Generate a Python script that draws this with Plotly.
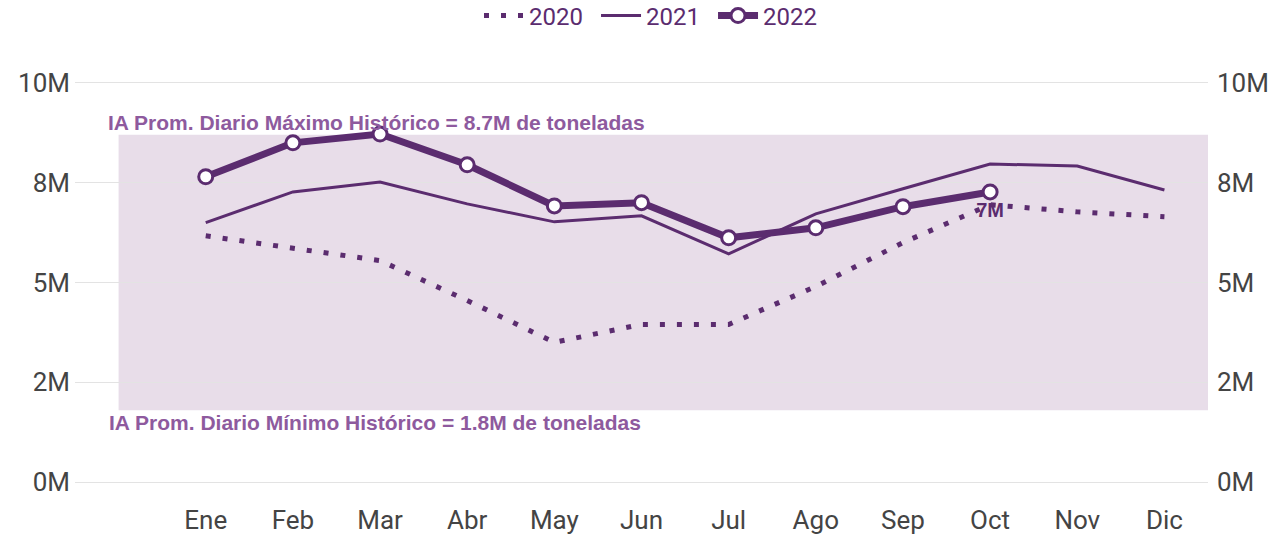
import plotly.graph_objects as go

months = ["Ene", "Feb", "Mar", "Abr", "May", "Jun", "Jul", "Ago", "Sep", "Oct", "Nov", "Dic"]
y2020 = [6.17, 5.85, 5.55, 4.55, 3.5, 3.95, 3.95, 4.9, 6.0, 6.95, 6.77, 6.65]
y2021 = [6.5, 7.27, 7.52, 6.97, 6.52, 6.67, 5.72, 6.72, 7.35, 7.97, 7.92, 7.32]
y2022 = [7.65, 8.5, 8.72, 7.95, 6.92, 7.0, 6.12, 6.37, 6.9, 7.27]
labels2022 = ["", "", "", "", "", "", "", "", "", "7M"]
hist_max = 8.7
hist_min = 1.8
tickvals = [0, 2.5, 5, 7.5, 10]
ticktext = ["0M", "2M", "5M", "8M", "10M"]

purple = "#5b2c6f"
ann_color = "#8e5a9e"
shade = "#e8dde9"

fig = go.Figure()
fig.add_trace(go.Scatter(x=months, y=y2020, name="2020", mode="lines",
                         line=dict(color=purple, width=5, dash="5px,12px")))
fig.add_trace(go.Scatter(x=months, y=y2021, name="2021", mode="lines",
                         line=dict(color=purple, width=3)))
fig.add_trace(go.Scatter(x=months[:len(y2022)], y=y2022, name="2022", mode="lines+markers+text",
                         line=dict(color=purple, width=7),
                         marker=dict(color="white", size=14, line=dict(color=purple, width=3)),
                         text=labels2022, textposition="bottom center",
                         textfont=dict(family="Liberation Sans", size=20, color=purple, weight="bold")))
fig.add_trace(go.Scatter(x=months, y=y2021, yaxis="y2", mode="lines", showlegend=False,
                         line=dict(width=0), opacity=0, hoverinfo="skip"))

fig.add_shape(type="rect", xref="x", yref="y", x0=-1, x1=11.5, y0=hist_min, y1=hist_max,
              fillcolor=shade, line=dict(width=0), layer="below")

fig.add_annotation(x=-1.15, y=hist_max, xref="x", yref="y", xanchor="left", yanchor="bottom",
                   text=f"IA Prom. Diario Máximo Histórico = {hist_max}M de toneladas",
                   showarrow=False, yshift=-1,
                   font=dict(family="Liberation Sans", size=21, color=ann_color, weight="bold"))
fig.add_annotation(x=-1.13, y=hist_min, xref="x", yref="y", xanchor="left", yanchor="top",
                   text=f"IA Prom. Diario Mínimo Histórico = {hist_min}M de toneladas",
                   showarrow=False, yshift=1,
                   font=dict(family="Liberation Sans", size=21, color=ann_color, weight="bold"))

axis_font = dict(family="Roboto", size=26, color="#444444")
fig.update_layout(
    width=1278, height=539,
    margin=dict(l=75, r=70, t=75, b=37),
    paper_bgcolor="white", plot_bgcolor="white",
    font=dict(family="Roboto"),
    showlegend=True,
    legend=dict(orientation="h", x=0.5115, xanchor="center", y=0.9703, yref="container", yanchor="middle",
                font=dict(family="Roboto", size=24, color=purple), itemwidth=40, entrywidth=62),
    xaxis=dict(type="category", categoryorder="array", categoryarray=months, range=[-1.5, 11.5],
               showgrid=False, zeroline=False, showline=False, tickfont=axis_font, ticks="",
               automargin=False),
    yaxis=dict(range=[-0.5, 10.2], tickvals=tickvals, ticktext=ticktext, showgrid=True,
               gridcolor="#e3e3e3", gridwidth=1, zeroline=False, tickfont=axis_font, ticks="",
               automargin=False, ticklabelstandoff=4),
    yaxis2=dict(range=[-0.5, 10.2], tickvals=tickvals, ticktext=ticktext, overlaying="y", side="right",
                showgrid=False, zeroline=False, tickfont=axis_font, ticks="", automargin=False,
                ticklabelstandoff=8),
)

fig.write_html("out.html", config={"displayModeBar": False},
               post_script="document.body.style.margin='0';")
